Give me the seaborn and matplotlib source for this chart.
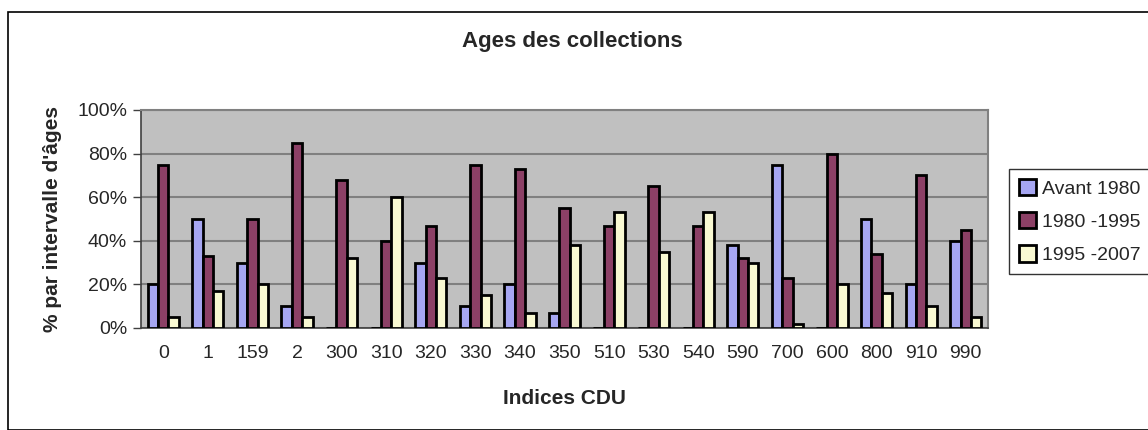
import pandas as pd
import numpy as np
import matplotlib
matplotlib.use('Agg')
import matplotlib.pyplot as plt
import matplotlib.ticker as mticker
from matplotlib.patches import Rectangle
import seaborn as sns

# donnees
indices = ['0', '1', '159', '2', '300', '310', '320', '330', '340', '350',
           '510', '530', '540', '590', '700', '600', '800', '910', '990']
avant_1980 = [20, 50, 30, 10, 0, 0, 30, 10, 20, 7, 0, 0, 0, 38, 75, 0, 50, 20, 40]
p1980_1995 = [75, 33, 50, 85, 68, 40, 47, 75, 73, 55, 47, 65, 47, 32, 23, 80, 34, 70, 45]
p1995_2007 = [5, 17, 20, 5, 32, 60, 23, 15, 7, 38, 53, 35, 53, 30, 2, 20, 16, 10, 5]
series = ['Avant 1980', '1980 -1995', '1995 -2007']
colors = ['#9999FF', '#993366', '#FFFFCC']

df = pd.DataFrame({'Indice': indices * 3,
                   'Periode': np.repeat(series, len(indices)),
                   'Valeur': np.array(avant_1980 + p1980_1995 + p1995_2007) / 100})

sns.set_style('white')
plt.rcParams['font.family'] = ['Liberation Sans', 'DejaVu Sans']

fig = plt.figure(figsize=(11.48, 4.30), dpi=100)
ax = fig.add_axes([141 / 1148, 1 - 328 / 430, 847 / 1148, 218 / 430])
ax.set_facecolor('#C0C0C0')

sns.barplot(data=df, x='Indice', y='Valeur', hue='Periode', palette=colors,
            width=0.7, edgecolor='black', linewidth=2, ax=ax, zorder=3)

ax.set_ylim(0, 1)
ax.set_xlim(-0.5, len(indices) - 0.5)
ax.yaxis.set_major_locator(mticker.MultipleLocator(0.2))
ax.yaxis.set_major_formatter(mticker.PercentFormatter(1.0, decimals=0))
ax.grid(axis='y', color='#808080', linewidth=1.5, zorder=0)
ax.set_axisbelow(True)

# ticks entre les categories
ax.set_xticks(np.arange(-0.5, len(indices)), minor=True)
ax.tick_params(axis='x', which='major', length=0, labelsize=14, pad=12)
ax.tick_params(axis='x', which='minor', length=6, width=1, color='#404040', direction='out')
ax.tick_params(axis='y', length=6, width=1, color='#404040', direction='out', labelsize=14, pad=4)
ax.tick_params(left=True, bottom=True)

for s in ['top', 'right']:
    ax.spines[s].set_color('#808080')
    ax.spines[s].set_linewidth(1.5)
for s in ['left', 'bottom']:
    ax.spines[s].set_color('#404040')
    ax.spines[s].set_linewidth(1.2)

ax.set_xlabel('Indices CDU', fontsize=15, fontweight='bold', labelpad=20)
ax.set_ylabel("% par intervalle d'âges", fontsize=15, fontweight='bold', labelpad=11)
fig.text(572 / 1148, 1 - 42 / 430, 'Ages des collections', ha='center', va='center',
         fontsize=16, fontweight='bold')

leg = ax.legend(loc='upper left', bbox_to_anchor=(1009 / 1148, 1 - 169 / 430),
                bbox_transform=fig.transFigure, frameon=True, fontsize=14,
                handlelength=0.9, handleheight=0.9, handletextpad=0.3,
                labelspacing=0.75, borderpad=0.5, borderaxespad=0, fancybox=False)
leg.get_frame().set_edgecolor('black')
leg.get_frame().set_linewidth(1)
for h in leg.legend_handles:
    h.set_edgecolor('black')
    h.set_linewidth(2)

fig.patches.append(Rectangle((8 / 1148, 0), 1.0, 1 - 12 / 430, transform=fig.transFigure,
                             fill=False, edgecolor='black', linewidth=1.2))

fig.savefig('out.png', dpi=100)
